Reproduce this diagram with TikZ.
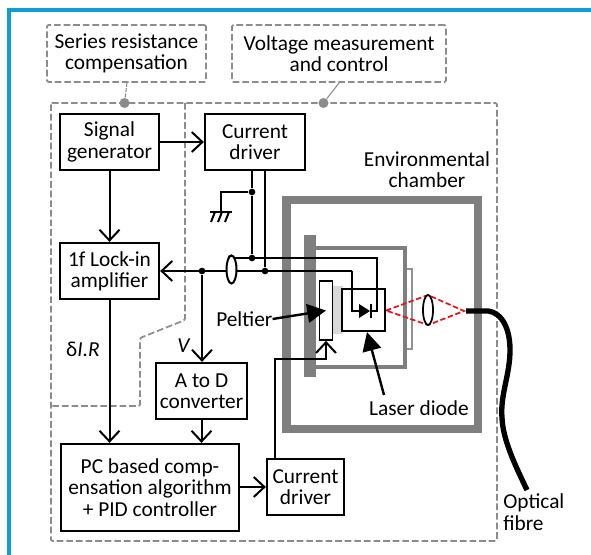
\documentclass[tikz,border=0pt]{standalone}
\usepackage{fontspec}
\setmainfont{Carlito}
\usetikzlibrary{arrows.meta,calc}
\definecolor{frameblue}{HTML}{0E9FD0}
\definecolor{dashgrey}{HTML}{8C8C8C}
\definecolor{chgrey}{HTML}{7F7F7F}
\definecolor{redd}{HTML}{E8111A}
\def\u{0.75pt}
\tikzset{
 x=0.75pt,y=-0.75pt,
 txt/.style={font=\fontsize{16pt}{16pt}\selectfont,align=center,inner sep=0pt},
 blk/.style args={#1x#2}{draw=black,line width=1.7pt,fill=white,minimum width=#1*0.75pt,minimum height=#2*0.75pt,inner sep=0pt,font=\fontsize{16pt}{16pt}\selectfont,align=center},
 wire/.style={draw=black,line width=1.5pt},
 arr/.style={wire,-{Straight Barb[length=8pt,width=15pt,line width=1.5pt]}},
 dashbox/.style={draw=dashgrey,line width=1.3pt,dash pattern=on 5pt off 2.2pt,rounded corners=1pt},
 dot/.style={circle,fill=black,inner sep=0pt,minimum size=5pt},
 gdot/.style={circle,fill=dashgrey,inner sep=0pt,minimum size=7.5pt},
 bigarr/.style={draw=black,line width=1.8pt,-{Triangle[length=14pt,width=14pt]}},
}
\begin{document}
\begin{tikzpicture}
\useasboundingbox (0,0) rectangle (591,555);
% blue frame
\draw[frameblue,line width=3.2pt] (9,555) -- (9,10) -- (591,10);
% dashed annotation
\node[dashbox,minimum width=159*\u,minimum height=57*\u,txt,draw=dashgrey] (srbox) at (126.5,53.5) {Series resistance\\compensation};
\node[dashbox,minimum width=214*\u,minimum height=57*\u,txt,draw=dashgrey] (vbox) at (339,53.5) {Voltage measurement\\and control};
\draw[dashbox] (51,103) rectangle (497,541);
\draw[dashbox] (185,103) -- (185,320) -- (140,338) -- (140,406) -- (51,406);
\node[gdot] (gd1) at (124.5,103) {};
\node[gdot] (gd2) at (323.5,103) {};
\draw[draw=dashgrey,line width=0.8pt,dash pattern=on 3pt off 1pt] (srbox.south -| 127,0) -- (gd1);
\draw[draw=dashgrey,line width=0.8pt] (339,83) -- (gd2);
% chamber
\draw[chgrey,line width=6.2pt] (286.5,200) rectangle (478,429);
\draw[draw=chgrey!85,line width=1pt,fill=white] (406,269) rectangle (412,349);
\draw[chgrey,line width=2.4pt] (316,248) -- (405,248) -- (405,367) -- (316,367);
\fill[chgrey] (304,235) rectangle (316,377);
\fill[black!15] (333,286) rectangle (343,334);
% blocks
\node[blk=99x56] (sig) at (109.5,142) {Signal\\generator};
\node[blk=100x56] (cd1) at (255,142) {Current\\driver};
\node[blk=99x56] (lock) at (109.5,271) {1f Lock-in\\amplifier};
\node[blk=91x56] (adc) at (201.5,391) {A to D\\converter};
\node[blk=178x87] (pc) at (150,487.5) {PC based comp-\\ensation algorithm\\+ PID controller};
\node[blk=77x56] (cd2) at (305.5,487) {Current\\driver};
\node[blk=13x59,line width=1.3pt] (pel) at (326,310.5) {};
\node[blk=43x42,line width=1.7pt] (ld) at (363.5,310) {};
% arrows between blocks
\draw[arr] (sig.east) -- (cd1.west);
\draw[arr] (sig.south) -- (lock.north);
\draw[wire] (lock.south) -- (109.5,340);
\draw[arr] (109.5,340) -- (pc.north -| 109.5,0);
\draw[arr] (adc.south) -- (adc.south |- pc.north);
\draw[arr] (pc.east |- cd2.west) -- (cd2.west);
% junctions
\node[dot] (j1) at (252,192) {};
\node[dot] (j2) at (252,258) {};
\node[dot] (j3) at (265,271) {};
\node[dot] (j4) at (202,271) {};
\node[dot] (j5) at (231,258) {};
\draw[wire] (cd1.south -| j1) -- (j1) -- (j2);
\draw[wire] (cd1.south -| j3) -- (j3);
% ground
\coordinate (g0) at (221,212);
\draw[wire] (j1) -- (221,192) -- (g0);
\draw[wire] (210,212) -- (232,212);
\foreach \gx in {215,222,229} \draw[wire] (\gx,212) -- (\gx-4,222);
% main wires
\coordinate (dL) at (359,311);
\coordinate (dR) at (370,311);
\draw[wire] (j5) -- (377,258) -- (377,311) -- (dR);
\draw[arr] (352,271) -- (lock.east);
\draw[wire] (352,271) -- (352,311) -- (dL);
\draw[arr] (j4) -- (adc.north -| j4);
\draw[wire,fill=white] (231.5,269.5) ellipse (5 and 14);
% diode
\fill[black] (359,304) -- (370,311) -- (359,318) -- cycle;
\draw[wire] (370.5,304) -- (370.5,318);
% peltier feed
\draw[arr] (cd2.north -| 275,0) -- (275,359) -- (326,359) -- (pel.south);
% optics
\draw[redd,line width=1.3pt,dash pattern=on 4pt off 2pt] (ld.east |- 0,310.5) -- (428,295) -- (464,311) -- (428,325) -- cycle;
\draw[black,line width=1.3pt,fill=white] (428,310) ellipse (5 and 15);
\draw[black,line width=4pt] (466,311) -- (483,311) .. controls (497,309) and (510,322) .. (510,350) .. controls (510,375) and (500,395) .. (502,418) .. controls (503,440) and (515,465) .. (527,490);
% text labels
\node[txt] (env) at (427,170) {Environmental\\chamber};
\node[txt,anchor=west] (pt) at (216,319) {Peltier};
\node[txt] (lt) at (419,408) {Laser diode};
\node[txt,anchor=west,align=left] (of) at (503,512) {Optical\\fibre};
\node[txt] (dt) at (83,349) {δ\textit{I.R}};
\node[txt] (vt) at (184,346) {\textit{V}};
\draw[bigarr] (pt.east) -- (pel.center);
\draw[bigarr] (384,395) -- (ld.south -| 367,0);
\end{tikzpicture}
\end{document}
